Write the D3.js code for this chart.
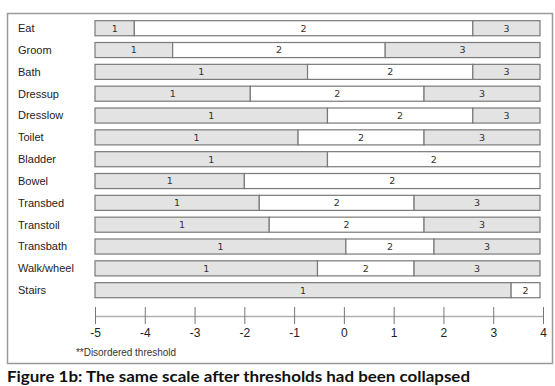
<!DOCTYPE html>
<html lang="en">
<head>
	<meta charset="utf-8">
	<title>Figure 1b</title>
	<script src="https://d3js.org/d3.v7.min.js"></script>
	<style>
		body { margin: 0; background: #fff; }
	</style>
</head>
<body>
	<div id="chart"></div>
	<script>
		// Items and threshold locations (logits)
		let items = ["Eat", "Groom", "Bath", "Dressup", "Dresslow", "Toilet", "Bladder",
			"Bowel", "Transbed", "Transtoil", "Transbath", "Walk/wheel", "Stairs"];
		let threshold1 = [-4.21, -3.44, -0.73, -1.88, -0.33, -0.92, -0.33, -2.0, -1.70, -1.50, 0.04, -0.53, 3.36];
		let threshold2 = [2.59, 0.83, 2.59, 1.61, 2.59, 1.61, null, null, 1.41, 1.61, 1.81, 1.41, null];
		let scaleStart = -5;
		let scaleEnd = 3.94;
		let tickLabels = [-5, -4, -3, -2, -1, 0, 1, 2, 3, 4];

		let width = 555;
		let height = 386;

		let svg = d3.select("#chart")
			.append("svg")
			.attr("width", width)
			.attr("height", height)
			.style("font-family", "'Liberation Sans', Arial, sans-serif");

		svg.append("rect")
			.attr("width", width)
			.attr("height", height)
			.attr("fill", "#fff");

		// frame
		svg.append("rect")
			.attr("x", 7.5)
			.attr("y", 13.5)
			.attr("width", 545)
			.attr("height", 350)
			.attr("fill", "none")
			.attr("stroke", "#9a9a9a")
			.attr("stroke-width", 1.5);

		let x = d3.scaleLinear()
			.domain([-5, 4])
			.range([95, 543]);

		let y = d3.scaleBand()
			.domain(items)
			.range([17.3, 301.1])
			.paddingInner(0.31)
			.paddingOuter(0.155);

		// build the segments of each bar
		let segments = [];
		items.forEach(function(item, i) {
			let cuts = [scaleStart, threshold1[i]];
			if (threshold2[i] !== null) cuts.push(threshold2[i]);
			cuts.push(scaleEnd);
			for (let k = 0; k < cuts.length - 1; k++) {
				segments.push({ item: item, cat: k + 1, from: cuts[k], to: cuts[k + 1] });
			}
		});

		// row labels
		svg.selectAll("text.rowLabel")
			.data(items)
			.enter()
			.append("text")
			.attr("class", "rowLabel")
			.attr("x", 18)
			.attr("y", function(d) { return y(d) + y.bandwidth() / 2; })
			.attr("dy", "0.35em")
			.style("font-size", "11px")
			.style("fill", "#222")
			.text(function(d) { return d; });

		// bar segments
		svg.selectAll("rect.seg")
			.data(segments)
			.enter()
			.append("rect")
			.attr("class", "seg")
			.attr("x", function(d) { return x(d.from); })
			.attr("y", function(d) { return y(d.item); })
			.attr("width", function(d) { return x(d.to) - x(d.from); })
			.attr("height", y.bandwidth())
			.attr("fill", function(d) { return d.cat === 2 ? "#ffffff" : "#e3e3e3"; })
			.attr("stroke", "#7a7a7a")
			.attr("stroke-width", 1.2);

		svg.selectAll("text.segLabel")
			.data(segments)
			.enter()
			.append("text")
			.attr("class", "segLabel")
			.attr("x", function(d) { return (x(d.from) + x(d.to)) / 2; })
			.attr("y", function(d) { return y(d.item) + y.bandwidth() / 2; })
			.attr("dy", "0.35em")
			.attr("text-anchor", "middle")
			.style("font-family", "'DejaVu Sans', sans-serif")
			.style("font-size", "9.5px")
			.style("fill", "#333")
			.text(function(d) { return d.cat; });

		// axis
		let axis = svg.append("g")
			.attr("transform", "translate(0,316)")
			.call(d3.axisBottom(x).tickValues(tickLabels).tickSize(8).tickSizeOuter(0).tickFormat(d3.format("d")));
		axis.select(".domain").attr("stroke", "#b0b0b0").attr("stroke-width", 1.3);
		axis.selectAll(".tick line")
			.attr("y1", -9)
			.attr("y2", 8)
			.attr("stroke", "#777");
		axis.selectAll(".tick text")
			.attr("y", 12)
			.style("font-family", "'Liberation Sans', Arial, sans-serif")
			.style("font-size", "12px")
			.style("fill", "#222")
			.text(function(d) { return d < 0 ? "-" + Math.abs(d) : d; });

		svg.append("text")
			.attr("x", 76)
			.attr("y", 356)
			.attr("textLength", 100)
			.attr("lengthAdjust", "spacingAndGlyphs")
			.style("font-size", "11px")
			.style("fill", "#333")
			.text("**Disordered threshold");

		svg.append("text")
			.attr("x", 7)
			.attr("y", 382)
			.attr("textLength", 463)
			.attr("lengthAdjust", "spacingAndGlyphs")
			.style("font-family", "Lato, 'Open Sans', sans-serif")
			.style("font-weight", "bold")
			.style("font-size", "15.5px")
			.style("fill", "#111")
			.text("Figure 1b: The same scale after thresholds had been collapsed");
	</script>
</body>
</html>
